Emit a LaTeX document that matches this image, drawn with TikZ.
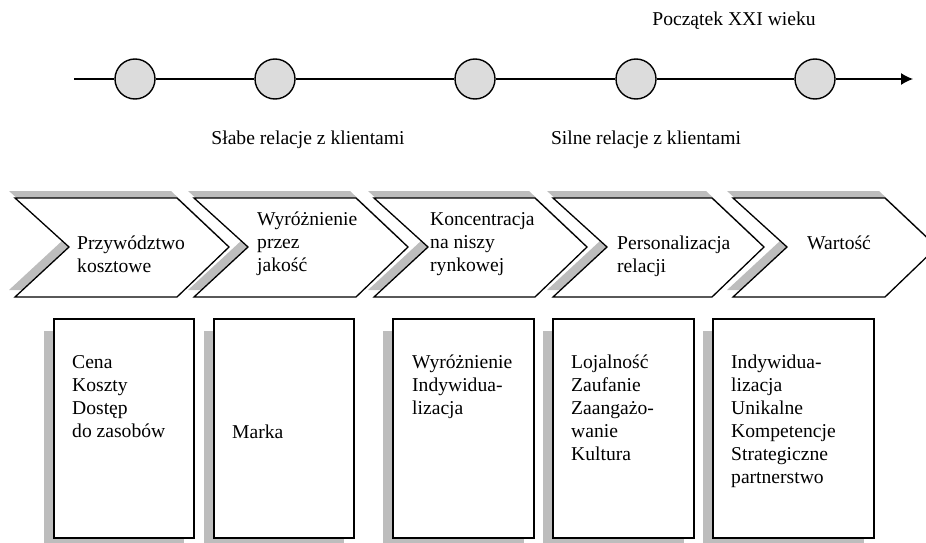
\documentclass[tikz,border=0pt]{standalone}
\usepackage{fontspec}
\setmainfont{Liberation Serif}
\usetikzlibrary{arrows.meta}
\definecolor{shade}{HTML}{BDBDBD}
\definecolor{dotfill}{HTML}{DCDCDC}
\newcommand{\ml}[1]{\begin{tabular}[t]{@{}l@{}}#1\end{tabular}}
\tikzset{
  txt/.style={anchor=base west, inner sep=0pt, font=\fontsize{19.6}{23}\selectfont},
  ttl/.style={anchor=base, inner sep=0pt, font=\fontsize{19.6}{23}\selectfont},
  dot/.style={circle, draw, line width=1.4pt, fill=dotfill, minimum size=40pt, inner sep=0pt},
  outline/.style={draw, line width=1.3pt, fill=white},
  shadowfill/.style={fill=shade}
}
\begin{document}
\begin{tikzpicture}[x=1pt,y=-1pt]
\useasboundingbox (0,0) rectangle (926,543);
\clip (0,0) rectangle (926,543);
% timeline
\coordinate (tstart) at (74,79);
\coordinate (tend) at (913,79);
\node[dot] (c1) at (135,79) {};
\node[dot] (c2) at (275,79) {};
\node[dot] (c3) at (475,79) {};
\node[dot] (c4) at (636,79) {};
\node[dot] (c5) at (815,79) {};
\draw[line width=1.3pt] (tstart) -- (c1) (c1) -- (c2) (c2) -- (c3) (c3) -- (c4) (c4) -- (c5);
\draw[line width=1.3pt, -{Latex[length=12pt,width=12pt]}] (c5) -- (tend);
\node[ttl] (t21) at (734,26) {Początek XXI wieku};
\node[ttl] (weak) at (308,144) {Słabe relacje z klientami};
\node[ttl] (strong) at (646,144) {Silne relacje z klientami};
% chevrons
\foreach \L/\R in {15/177, 194/356, 374/535, 553/712, 733/885}{
  \fill[shadowfill] ({\L-6},191) -- ({\R-6},191) -- ({\R+46},240) -- ({\R-6},290) -- ({\L-6},290) -- ({\L+48},240) -- cycle;
}
\foreach \L/\R in {15/177, 194/356, 374/535, 553/712, 733/885}{
  \draw[outline] (\L,198) -- (\R,198) -- ({\R+52},247) -- (\R,297) -- (\L,297) -- ({\L+54},247) -- cycle;
}
\node[txt] (ch1) at (77,249) {\ml{Przywództwo\\kosztowe}};
\node[txt] (ch2) at (257,225) {\ml{Wyróżnienie\\przez\\jakość}};
\node[txt] (ch3) at (430,225) {\ml{Koncentracja\\na niszy\\rynkowej}};
\node[txt] (ch4) at (617,249) {\ml{Personalizacja\\relacji}};
\node[txt] (ch5) at (807,249) {Wartość};
% boxes
\foreach \L/\R in {54/194, 214/354, 393/534, 553/694, 713/874}{
  \fill[shadowfill] ({\L-10},331) rectangle ({\R-10},550);
  \draw[outline] (\L,319) rectangle (\R,538);
}
\node[txt] (b1) at (72,368) {\ml{Cena\\Koszty\\Dostęp\\do zasobów}};
\node[txt] (b2) at (232,438) {Marka};
\node[txt] (b3) at (412,368) {\ml{Wyróżnienie\\Indywidua-\\lizacja}};
\node[txt] (b4) at (571,368) {\ml{Lojalność\\Zaufanie\\Zaangażo-\\wanie\\Kultura}};
\node[txt] (b5) at (731,368) {\ml{Indywidua-\\lizacja\\Unikalne\\Kompetencje\\Strategiczne\\partnerstwo}};
\end{tikzpicture}
\end{document}
